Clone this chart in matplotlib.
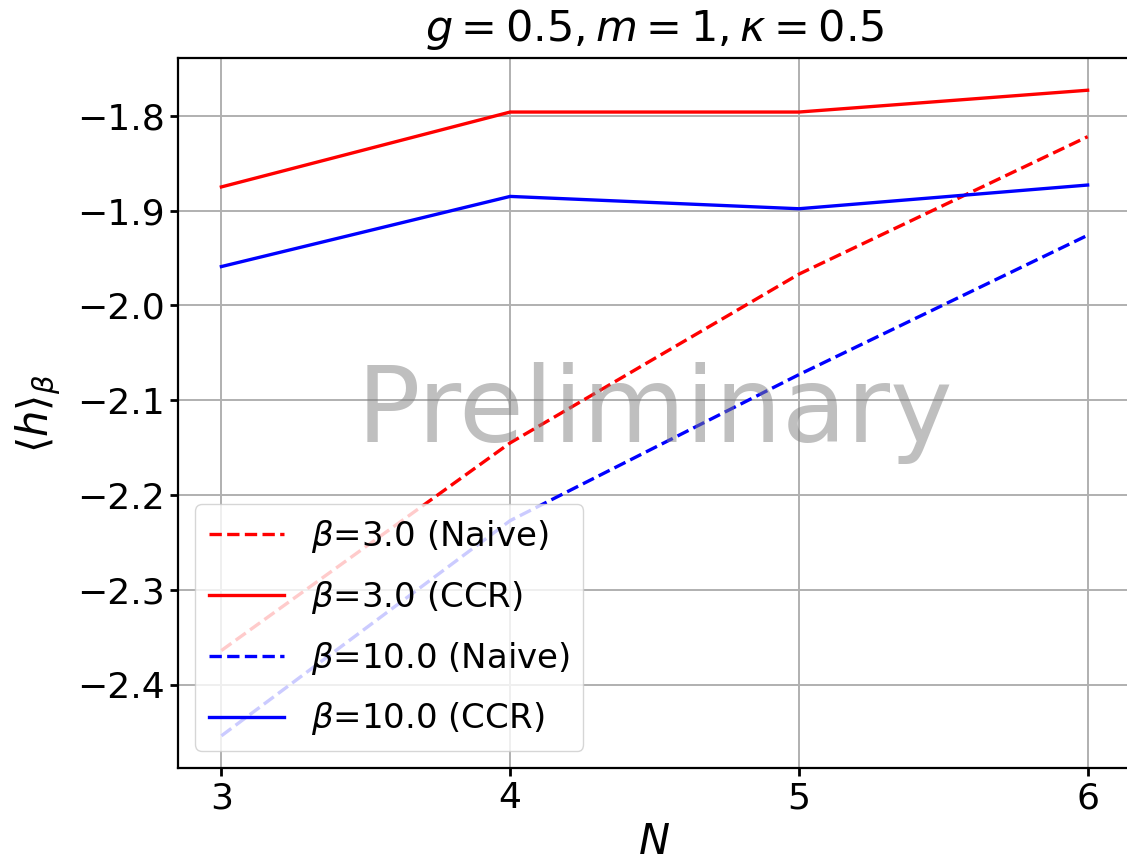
import numpy as np
import matplotlib
matplotlib.use("Agg")
import matplotlib.pyplot as plt

N = [3, 4, 5, 6]
naive_b3 = [-2.364, -2.145, -1.967, -1.822]
ccr_b3 = [-1.875, -1.796, -1.796, -1.773]
naive_b10 = [-2.454, -2.227, -2.073, -1.926]
ccr_b10 = [-1.959, -1.885, -1.898, -1.873]

fig = plt.figure(figsize=(11.27, 8.65), dpi=100)
ax = fig.add_axes([0.158, 0.112, 0.8455, 0.821])

ax.plot(N, naive_b3, '--', color='red', lw=2.4, label=r'$\beta$=3.0 (Naive)')
ax.plot(N, ccr_b3, '-', color='red', lw=2.4, label=r'$\beta$=3.0 (CCR)')
ax.plot(N, naive_b10, '--', color='blue', lw=2.4, label=r'$\beta$=10.0 (Naive)')
ax.plot(N, ccr_b10, '-', color='blue', lw=2.4, label=r'$\beta$=10.0 (CCR)')

ax.text(0.5, 0.5, 'Preliminary', transform=ax.transAxes, fontsize=76,
        color='gray', alpha=0.5, ha='center', va='center')

ax.set_xticks(N)
ax.grid(True, color='#b0b0b0', lw=1.4)
ax.tick_params(labelsize=26, width=2, length=6)
for s in ax.spines.values():
    s.set_linewidth(1.6)
ax.set_xlabel(r'$N$', fontsize=30, labelpad=4)
ax.set_ylabel(r'$\langle h \rangle_\beta$', fontsize=30, labelpad=10)
ax.set_title(r'$g=0.5, m=1, \kappa=0.5$', fontsize=31, pad=12)
ax.legend(loc='lower left', fontsize=24.5, handlelength=2.2, labelspacing=0.7)

fig.savefig('out.png', dpi=100)
